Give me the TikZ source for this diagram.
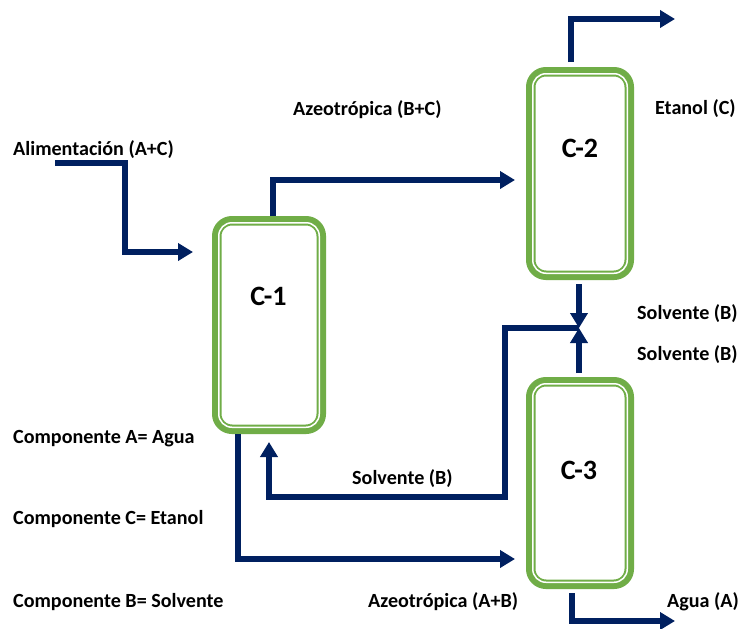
\documentclass[tikz,border=0pt]{standalone}
\usepackage{fontspec}
\setmainfont{Carlito}
\usetikzlibrary{arrows.meta}
\definecolor{flowblue}{RGB}{0,32,96}
\definecolor{colgreen}{RGB}{112,173,71}
\begin{document}
\begin{tikzpicture}[x=1pt,y=-1pt,
  column/.style={draw=colgreen, line width=9.5pt, rounded corners=15.25pt,
    outer sep=4.75pt, inner sep=0pt, fill=white},
  colname/.style={font=\fontsize{28}{32}\selectfont\bfseries, anchor=base, inner sep=0pt},
  lbl/.style={font=\fontsize{20.1}{24}\selectfont\bfseries, anchor=base west, inner sep=0pt},
  flow/.style={draw=flowblue, line width=5.5pt},
  flowarrow/.style={-{Triangle[length=15pt,width=17pt]}, flow}
]
\fill[white] (0,0) rectangle (739,629);
\useasboundingbox (0,0) rectangle (739,629);

% distillation columns
\node[column, minimum width=104.5pt, minimum height=208.5pt] (c1) at (269,325) {};
\node[column, minimum width=98.5pt, minimum height=203.5pt] (c2) at (580,173.5) {};
\node[column, minimum width=98.5pt, minimum height=202.5pt] (c3) at (580,483) {};
\foreach \c in {c1,c2,c3}
  \draw[white, line width=1.5pt, rounded corners=13.25pt]
    ([shift={(6.75,6.75)}]\c.north west) rectangle ([shift={(-6.75,-6.75)}]\c.south east);

\node[colname] (n1) at (268.5,305) {C-1};
\node[colname] (n2) at (580,157) {C-2};
\node[colname] (n3) at (579,479) {C-3};

% free ends of the streams
\coordinate (feed)  at (55,163);
\coordinate (c1in)  at (193,252);
\coordinate (c2in)  at (515,180);
\coordinate (c3in)  at (515,559);
\coordinate (etoh)  at (675,19);
\coordinate (water) at (675,621);
\coordinate (jn)    at (579,328);
\coordinate (c1ret) at (269,442);

% streams
\draw[flowarrow] (feed) -| (125,252) -- (c1in);
\draw[flowarrow] ([xshift=4pt]c1.north) |- (c2in);
\draw[flowarrow] ([xshift=-31pt]c1.south) |- (c3in);
\draw[flowarrow] ([shift={(-9,-5)}]c2.north) |- (etoh);
\draw[flowarrow] ([shift={(-8,4)}]c3.south) |- (water);
\draw[flowarrow] ([shift={(-1,4)}]c2.south) -- (jn);
\draw[flowarrow] ([shift={(-1,-4)}]c3.north) -- (jn);
\draw[flowarrow] (jn) -| (505,497) -| (c1ret);

% stream labels
\node[lbl] (l1)  at (13,155)  {Alimentación (A+C)};
\node[lbl] (l2)  at (293,115) {Azeotrópica (B+C)};
\node[lbl] (l3)  at (655,114) {Etanol (C)};
\node[lbl] (l4)  at (637,319) {Solvente (B)};
\node[lbl] (l5)  at (637,360) {Solvente (B)};
\node[lbl] (l6)  at (352,484) {Solvente (B)};
\node[lbl] (l7)  at (368,607) {Azeotrópica (A+B)};
\node[lbl] (l8)  at (667,607) {Agua (A)};

% component legend
\node[lbl] (k1) at (13,443) {Componente A= Agua};
\node[lbl] (k2) at (13,524) {Componente C= Etanol};
\node[lbl] (k3) at (13,607) {Componente B= Solvente};
\end{tikzpicture}
\end{document}
